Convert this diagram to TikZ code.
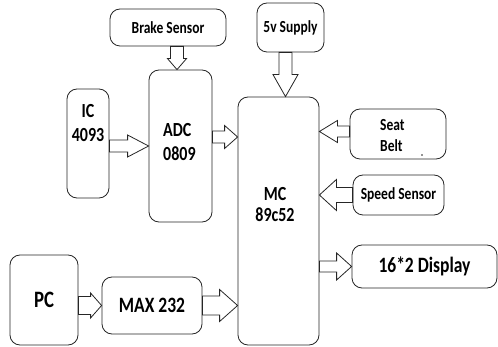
\documentclass[tikz,border=0pt]{standalone}
\usepackage{fontspec}
\setmainfont{Carlito}[FakeStretch=0.8]
\usetikzlibrary{calc}

% hollow block arrow: tail, tip, shaft half width, head half width, head length
\newcommand{\blockarrow}[5]{%
  \coordinate (ba-h) at ($(#2)!#5!(#1)$);
  \draw[barrow] ($(#1)!#3!90:(#2)$) -- ($(ba-h)!#3!90:(#2)$) -- ($(ba-h)!#4!90:(#2)$) -- (#2)
    -- ($(ba-h)!#4!-90:(#2)$) -- ($(ba-h)!#3!-90:(#2)$) -- ($(#1)!#3!-90:(#2)$) -- cycle;}

\begin{document}
\begin{tikzpicture}[
  x=1pt, y=-1pt,
  every node/.style={font=\bfseries},
  blk/.style={rectangle, draw=black!85, line width=0.8pt, rounded corners=10pt, inner sep=0pt},
  txt/.style={inner sep=0pt},
  small/.style={font=\bfseries\fontsize{16.9}{21}\selectfont},
  mid/.style={font=\bfseries\fontsize{20}{24}\selectfont},
  big/.style={font=\bfseries\fontsize{21.9}{24}\selectfont},
  barrow/.style={draw=black!85, line width=0.8pt, fill=white, line join=miter}
]
\useasboundingbox (0,0) rectangle (498,347);

% Blocks
\node[blk, small, minimum width=116pt, minimum height=37pt] (brake) at (168,27.5) {Brake Sensor};
\node[blk, small, minimum width=67pt, minimum height=49pt] (supply) at (290.5,27.5) {5v Supply};
\node[blk, minimum width=42pt, minimum height=109pt] (ic) at (88,143.5) {};
\node[blk, minimum width=63pt, minimum height=152pt] (adc) at (180.5,146) {};
\node[blk, minimum width=81pt, minimum height=248pt] (mc) at (278.5,221) {};
\node[blk, minimum width=96pt, minimum height=50pt] (seat) at (398,134) {};
\node[blk, small, minimum width=91pt, minimum height=40pt] (speed) at (398.5,195) {Speed Sensor};
\node[blk, big, minimum width=145pt, minimum height=43pt] (disp) at (424.5,266.5) {16*2 Display};
\node[blk, font=\bfseries\fontsize{23.5}{26}\selectfont, minimum width=68pt, minimum height=90pt] (pc) at (44,300) {PC};
\node[blk, big, minimum width=100pt, minimum height=57pt] (max) at (152,305.5) {MAX 232};

% Texts inside the tall blocks
\node[txt, mid, align=center] (ic-txt) at (88,123.5) {IC\\4093};
\node[txt, mid, align=left, anchor=west] (adc-txt) at (163,142) {ADC\\0809};
\node[txt, mid, align=center, font=\bfseries\fontsize{20}{21}\selectfont] (mc-txt) at (275,204.5) {MC\\89c52};
\node[txt, small, align=left, anchor=west] (seat-txt) at (380,135.5) {Seat\\Belt};
\fill[black!85] (422,155) circle (0.9pt);

% Arrows
\coordinate (brake-out) at ([xshift=9pt]brake.south);
\coordinate (adc-top) at (brake-out |- adc.north);
\blockarrow{brake-out}{adc-top}{6.5pt}{9.5pt}{11pt}

\coordinate (supply-out) at ([xshift=-5pt]supply.south);
\coordinate (mc-top) at (supply-out |- mc.north);
\blockarrow{supply-out}{mc-top}{6.5pt}{12.5pt}{22pt}

\coordinate (ic-out) at (ic.east |- adc.west);
\blockarrow{ic-out}{adc.west}{6pt}{11pt}{21pt}

\coordinate (adc-out) at ([yshift=9pt]adc.east);
\coordinate (mc-in1) at (mc.west |- adc-out);
\blockarrow{adc-out}{mc-in1}{6pt}{11.5pt}{13pt}

\coordinate (seat-out) at ([yshift=2.5pt]seat.west);
\coordinate (mc-in2) at (mc.east |- seat-out);
\blockarrow{seat-out}{mc-in2}{5.5pt}{11pt}{18pt}

\coordinate (mc-in3) at (mc.east |- speed.west);
\blockarrow{speed.west}{mc-in3}{7.5pt}{15.5pt}{17pt}

\coordinate (mc-out) at (mc.east |- disp.west);
\blockarrow{mc-out}{disp.west}{5.5pt}{13.5pt}{15pt}

\coordinate (pc-out) at (pc.east |- max.west);
\blockarrow{pc-out}{max.west}{9pt}{12.5pt}{11pt}

\coordinate (mc-in4) at (mc.west |- max.east);
\blockarrow{max.east}{mc-in4}{9.5pt}{16pt}{18pt}
\end{tikzpicture}
\end{document}
